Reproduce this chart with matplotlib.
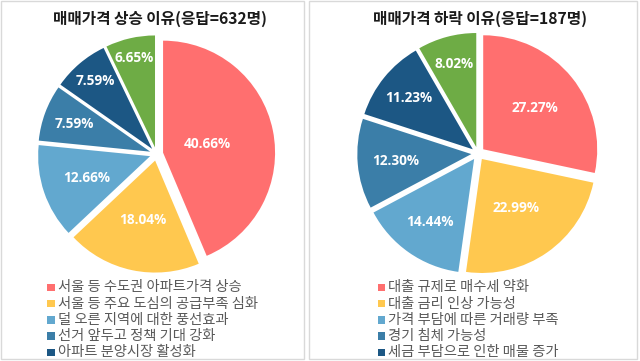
import numpy as np
import matplotlib
matplotlib.use("Agg")
import matplotlib.pyplot as plt
from matplotlib.patches import Rectangle

plt.rcParams['font.family'] = ['Noto Sans CJK KR', 'DejaVu Sans']

# ---- data ----
left_title = "매매가격 상승 이유(응답=632명)"
left_labels = ["서울 등 수도권 아파트가격 상승", "서울 등 주요 도심의 공급부족 심화",
               "덜 오른 지역에 대한 풍선효과", "선거 앞두고 정책 기대 강화",
               "아파트 분양시장 활성화", ""]
left_values = [40.66, 18.04, 12.66, 7.59, 7.59, 6.65]

right_title = "매매가격 하락 이유(응답=187명)"
right_labels = ["대출 규제로 매수세 약화", "대출 금리 인상 가능성",
                "가격 부담에 따른 거래량 부족", "경기 침체 가능성",
                "세금 부담으로 인한 매물 증가", ""]
right_values = [27.27, 22.99, 14.44, 12.30, 11.23, 8.02]

colors = ['#FF6F6F', '#FFC84F', '#62A8CF', '#3B7EA8', '#1C5784', '#6EAC45']

W, H = 640, 361
fig = plt.figure(figsize=(W / 100, H / 100), dpi=100)
ax = fig.add_axes([0, 0, 1, 1])


def py(y):
    return H - y


def panel(x0, x1, title, tx, labels, values, cx, cy, R, lab_r, leg_x, leg_y0):
    ax.add_patch(Rectangle((x0, py(359)), x1 - x0, 358, fill=False,
                           edgecolor='#D9D9D9', lw=1.0))
    ax.text(tx, py(19), title, ha='center', va='center', fontsize=11.3,
            fontweight='bold', color='#1a1a1a')
    wedges, _ = ax.pie(values, colors=colors, startangle=90, counterclock=False,
                       radius=R, center=(cx, py(cy)),
                       explode=[6.7] * len(values), frame=True)
    for w, v, f in zip(wedges, values, lab_r):
        mid = np.deg2rad((w.theta1 + w.theta2) / 2)
        x = w.center[0] + w.r * f * np.cos(mid)
        y = w.center[1] + w.r * f * np.sin(mid)
        ax.text(x, y, f"{v:.2f}%", ha='center', va='center', color='white',
                fontsize=9.8, fontweight='bold', family=['Open Sans', 'DejaVu Sans'])
    step = 16.2
    for i, lab in enumerate(labels):
        if not lab:
            continue
        yc = leg_y0 + i * step
        ax.add_patch(Rectangle((leg_x - 3.7, py(yc) - 3.7), 7.4, 7.4,
                               facecolor=colors[i], edgecolor='none'))
        ax.text(leg_x + 6.5, py(yc), lab, ha='left', va='center', fontsize=10.3,
                color='#595959')


panel(1, 304, left_title, 160, left_labels, left_values,
      156.5, 154, 112, [0.40, 0.54, 0.60, 0.72, 0.79, 0.82], 51, 287.5)
panel(309, 637, right_title, 480, right_labels, right_values,
      478, 153.5, 114, [0.58, 0.53, 0.67, 0.67, 0.72, 0.75], 381.5, 287.5)

ax.set_xlim(0, W)
ax.set_ylim(0, H)
ax.set_aspect('auto')
ax.axis('off')

fig.savefig('out.png', dpi=100)
